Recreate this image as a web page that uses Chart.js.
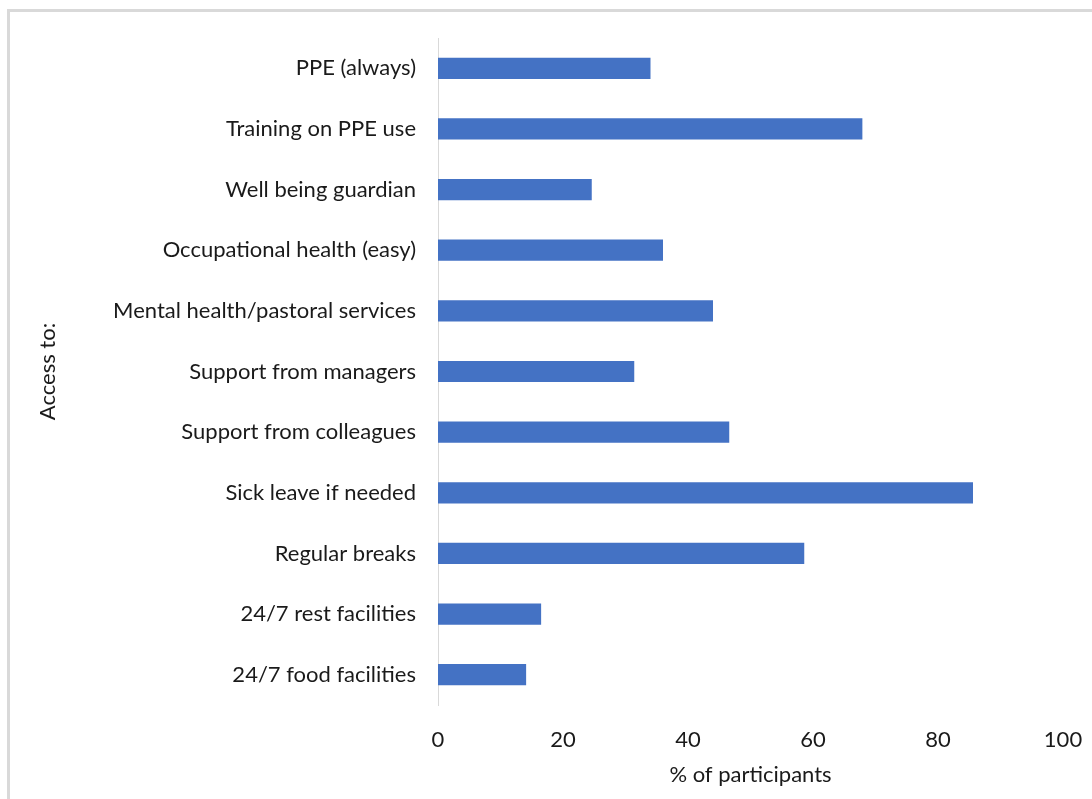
<!DOCTYPE html>
<html>
<head>
<meta charset="utf-8">
<script src="https://cdn.jsdelivr.net/npm/chart.js@4.4.1/dist/chart.umd.min.js"></script>
<style>
body { margin: 0; background: #fff; }
#wrap { position: relative; width: 1092px; height: 799px; overflow: hidden; }
#frame { position: absolute; left: 7px; top: 9px; width: 1100px; height: 800px;
  border-top: 3px solid #d9d9d9; border-left: 3px solid #d9d9d9; pointer-events: none; }
canvas { position: absolute; left: 0; top: 0; }
</style>
</head>
<body>
<div id="wrap">
<canvas id="myChart" width="1092" height="799"></canvas>
<div id="frame"></div>
</div>
<script>
// categories top to bottom
var categories = ['PPE (always)', 'Training on PPE use', 'Well being guardian',
  'Occupational health (easy)', 'Mental health/pastoral services', 'Support from managers',
  'Support from colleagues', 'Sick leave if needed', 'Regular breaks',
  '24/7 rest facilities', '24/7 food facilities'];
var percents = [34.0, 67.9, 24.6, 36.0, 44.0, 31.4, 46.6, 85.6, 58.6, 16.5, 14.1];
var xTicks = [0, 20, 40, 60, 80, 100];

var txt = '#1a1a1a';
var fnt = { family: 'Lato', size: 22 };

var ctx = document.getElementById('myChart').getContext('2d');
var myChart = new Chart(ctx, {
  type: 'bar',
  data: {
    labels: categories,
    datasets: [{
      data: percents,
      backgroundColor: '#4472C4',
      borderWidth: 0,
      barPercentage: 0.35,
      categoryPercentage: 1
    }]
  },
  options: {
    indexAxis: 'y',
    responsive: false,
    animation: false,
    layout: { padding: { left: 8, top: 38, right: 29, bottom: 0 } },
    plugins: { legend: { display: false }, tooltip: { enabled: false } },
    scales: {
      x: {
        min: 0, max: 100,
        afterBuildTicks: function (s) { s.ticks = xTicks.map(function (v) { return { value: v }; }); },
        afterFit: function (s) { s.height = 94; s.paddingRight = 0; s.paddingLeft = 0; },
        grid: { display: false },
        border: { display: false },
        ticks: { color: txt, font: fnt, padding: 14 },
        title: { display: true, text: '% of participants', color: txt, font: fnt, padding: { top: 0, bottom: 11 } }
      },
      y: {
        afterFit: function (s) { s.width = 430; },
        grid: { display: false },
        border: { display: true, color: '#d9d9d9', width: 1 },
        ticks: { color: txt, font: fnt, padding: 14 },
        title: { display: true, text: 'Access to:', color: txt, font: fnt, padding: { top: 27, bottom: 0 } }
      }
    }
  }
});
</script>
</body>
</html>
